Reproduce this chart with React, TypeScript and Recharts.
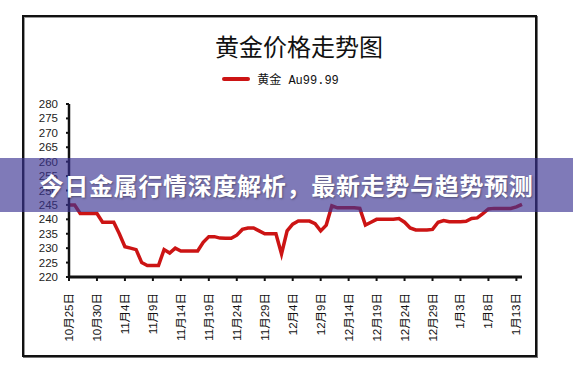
import React from 'react';
import { LineChart, Line, XAxis, YAxis, Legend } from 'recharts';

const chartTitle = '黄金价格走势图';
const seriesName = '黄金 Au99.99';
const bannerText = '今日金属行情深度解析，最新走势与趋势预测';

// daily prices from 10月25日 (index 0) to 1月14日 (index 81)
const prices: number[] = [
  245, 245, 242, 242, 242, 242, 239, 239, 239, 235,
  230.5, 230, 229.5, 225, 224, 224, 224, 229.5, 228.3, 230,
  229, 229, 229, 229, 232, 234, 234, 233.5, 233.4, 233.4,
  234.5, 236.5, 237, 237, 236, 235, 235, 235, 228, 236,
  238.3, 239.4, 239.4, 239.4, 238.5, 236, 238, 244.7, 244, 244,
  244, 244, 243.8, 238, 239, 240, 240, 240, 240, 240.3,
  239, 237, 236.3, 236.3, 236.3, 236.5, 239, 239.6, 239.2, 239.2,
  239.2, 239.3, 240.3, 240.5, 242, 243.6, 243.8, 243.8, 243.8, 243.8,
  244.3, 245.2,
];

const tickLabels: string[] = [
  '10月25日', '10月30日', '11月4日', '11月9日', '11月14日', '11月19日',
  '11月24日', '11月29日', '12月4日', '12月9日', '12月14日', '12月19日',
  '12月24日', '12月29日', '1月3日', '1月8日', '1月13日',
];
const tickStep = 5;
const yTicks: number[] = [220, 225, 230, 235, 240, 245, 250, 255, 260, 265, 270, 275, 280];

const rows = prices.map((p, i) => ({ day: i, price: p }));
const xTicks = tickLabels.map((_, i) => i * tickStep);

const XTick = (props: any) => {
  const { x, y, payload } = props;
  const label = tickLabels[Math.round(payload.value / tickStep)] ?? '';
  return (
    <text
      transform={`translate(${x},${y + 10}) rotate(-90)`}
      textAnchor="end"
      dominantBaseline="central"
      fontSize={11.5}
      fontFamily="'Liberation Sans', 'Noto Sans CJK SC', sans-serif"
      fill="#111"
    >
      {label}
    </text>
  );
};

const LegendContent = () => (
  <div style={{ display: 'flex', justifyContent: 'center', alignItems: 'center', paddingLeft: 0 }}>
    <div style={{ width: 600, display: 'flex', justifyContent: 'center', alignItems: 'center', marginLeft: -12 }}>
      <span style={{ display: 'inline-block', width: 28, height: 4, background: '#cc1414', borderRadius: 2, marginRight: 7 }} />
      <span style={{ fontSize: 12, fontFamily: "'Liberation Mono', 'Noto Sans CJK SC', monospace", color: '#111' }}>
        {seriesName}
      </span>
    </div>
  </div>
);

export default function App() {
  return (
    <div style={{ position: 'absolute', left: 0, top: 0, width: 573, height: 370, background: '#fff', overflow: 'hidden' }}>
      <div
        style={{
          position: 'absolute', left: 22, top: 15, width: 511, height: 338,
          border: '2px solid #111', boxShadow: 'inset 1px 1px 0 #999, 1px 1px 0 #777',
        }}
      />
      <div
        style={{
          position: 'absolute', left: 0, top: 30, width: 598, textAlign: 'center',
          fontSize: 24, lineHeight: '32px', fontFamily: "'Noto Sans CJK SC', sans-serif", color: '#111',
        }}
      >
        {chartTitle}
      </div>
      <div style={{ position: 'absolute', left: 0, top: 0 }}>
        <LineChart width={573} height={370} data={rows} margin={{ top: 104, right: 51, left: 0, bottom: 0 }}>
          <XAxis
            dataKey="day"
            type="number"
            domain={[0, 81]}
            ticks={xTicks}
            tick={<XTick />}
            tickSize={4}
            tickLine={{ stroke: '#111', strokeWidth: 2 }}
            axisLine={{ stroke: '#111', strokeWidth: 3 }}
            height={93}
            interval={0}
          />
          <YAxis
            domain={[220, 280]}
            ticks={yTicks}
            width={69}
            tickSize={3}
            tickMargin={8}
            interval={0}
            tickLine={{ stroke: '#111', strokeWidth: 2 }}
            axisLine={{ stroke: '#111', strokeWidth: 2.5 }}
            tick={{ fontSize: 11.5, fontFamily: "'Liberation Sans', sans-serif", fill: '#222' }}
          />
          <Legend
            verticalAlign="middle"
            align="center"
            layout="horizontal"
            content={<LegendContent />}
            wrapperStyle={{ top: 70, left: 0, width: 573, height: 16 }}
          />
          <Line
            type="linear"
            dataKey="price"
            name={seriesName}
            stroke="#cc1414"
            strokeWidth={3.5}
            dot={false}
            isAnimationActive={false}
          />
        </LineChart>
      </div>
      <div
        style={{
          position: 'absolute', left: 0, top: 158, width: 573, height: 54,
          background: 'rgba(58, 51, 146, 0.65)',
        }}
      />
      <div
        style={{
          position: 'absolute', left: 0, top: 158, width: 573, height: 54, lineHeight: '54px',
          textAlign: 'center', color: '#fff', fontWeight: 700, fontSize: 24, letterSpacing: 0.7,
          fontFamily: "'Noto Sans CJK SC', sans-serif", textShadow: '1px 1px 2px rgba(0,0,0,0.35)',
          whiteSpace: 'nowrap',
        }}
      >
        {bannerText}
      </div>
    </div>
  );
}
